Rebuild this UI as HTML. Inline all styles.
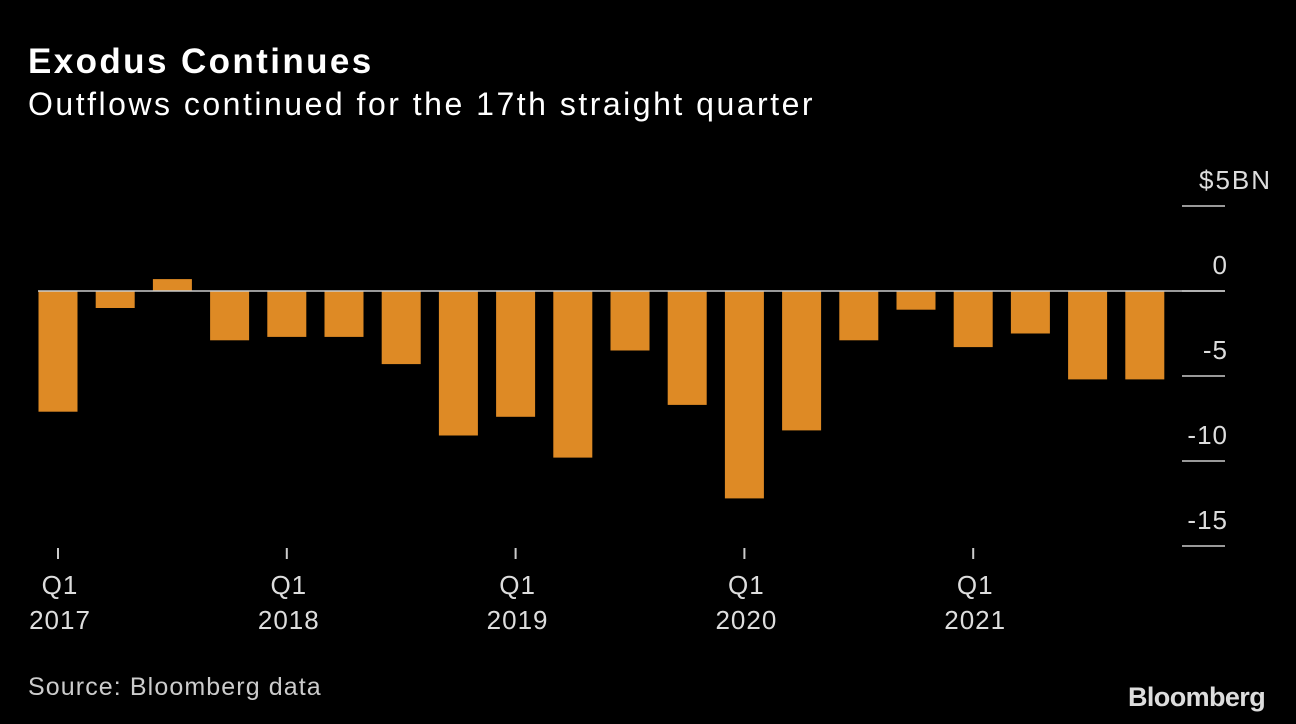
<!DOCTYPE html>
<html><head><meta charset="utf-8"><style>
html,body{margin:0;padding:0;background:#000;}
body{width:1296px;height:724px;overflow:hidden;position:relative;font-family:"Liberation Sans",sans-serif;color:#fff;}
.t{position:absolute;white-space:nowrap;}
</style></head><body>
<div class="t" style="left:28px;top:42px;font-size:35px;font-weight:bold;letter-spacing:2.4px;">Exodus Continues</div>
<div class="t" style="left:28px;top:86px;font-size:32px;letter-spacing:2.5px;">Outflows continued for the 17th straight quarter</div>
<svg id="chart" width="1296" height="724" style="position:absolute;left:0;top:0;"></svg>
<div class="t" style="left:28px;top:673px;font-size:25px;color:#ccc;letter-spacing:1.1px;">Source: Bloomberg data</div>
<div class="t" style="left:1128px;top:682px;font-size:27px;font-weight:bold;color:#ddd;letter-spacing:-0.6px;">Bloomberg</div>
<script>
const values=[-7.1,-1.0,0.7,-2.9,-2.7,-2.7,-4.3,-8.5,-7.4,-9.8,-3.5,-6.7,-12.2,-8.2,-2.9,-1.1,-3.3,-2.5,-5.2,-5.2];
const yTicks=[5,0,-5,-10,-15];
const yTickLabels=["$5BN","0","-5","-10","-15"];
const xTickIdx=[0,4,8,12,16];
const xTickLabels=[["Q1","2017"],["Q1","2018"],["Q1","2019"],["Q1","2020"],["Q1","2021"]];
const NS="http://www.w3.org/2000/svg";
const svg=document.getElementById('chart');
const y=v=>291-v*17;
const x=i=>58+i*57.2;
const bw=39;
function mk(tag,attrs){const e=document.createElementNS(NS,tag);for(const k in attrs)e.setAttribute(k,attrs[k]);svg.appendChild(e);return e;}
values.forEach((v,i)=>{
  const r=mk('rect',{x:x(i)-bw/2,y:Math.min(y(v),y(0)),width:bw,height:Math.abs(y(v)-y(0)),fill:'#de8a25'});
  
  
});
const zl=mk('line',{x1:38,x2:1225,y1:y(0),y2:y(0),stroke:'#ccc','stroke-width':1.5});


yTicks.forEach((v,i)=>{
  const l=mk('line',{x1:1182,x2:1225,y1:y(v),y2:y(v),stroke:'#ccc','stroke-width':1.5});
  
  
  const first=i===0;
  const t=mk('text',{x:first?1199:1228,y:y(v)-17,'text-anchor':first?'start':'end',fill:'#ddd','font-size':26,'letter-spacing':first?2:1,'font-family':'Liberation Sans, sans-serif'});
  t.textContent=yTickLabels[i];
  
  
});
xTickIdx.forEach((idx,i)=>{
  const l=mk('line',{x1:x(idx),x2:x(idx),y1:548,y2:559,stroke:'#ccc','stroke-width':2});
  
  
  xTickLabels[i].forEach((s,j)=>{
    const t=mk('text',{x:x(idx)+2,y:594+j*35,'text-anchor':'middle',fill:'#ddd','font-size':26,'letter-spacing':1,'font-family':'Liberation Sans, sans-serif'});
    t.textContent=s;
    
    
  });
});
</script>
</body></html>
